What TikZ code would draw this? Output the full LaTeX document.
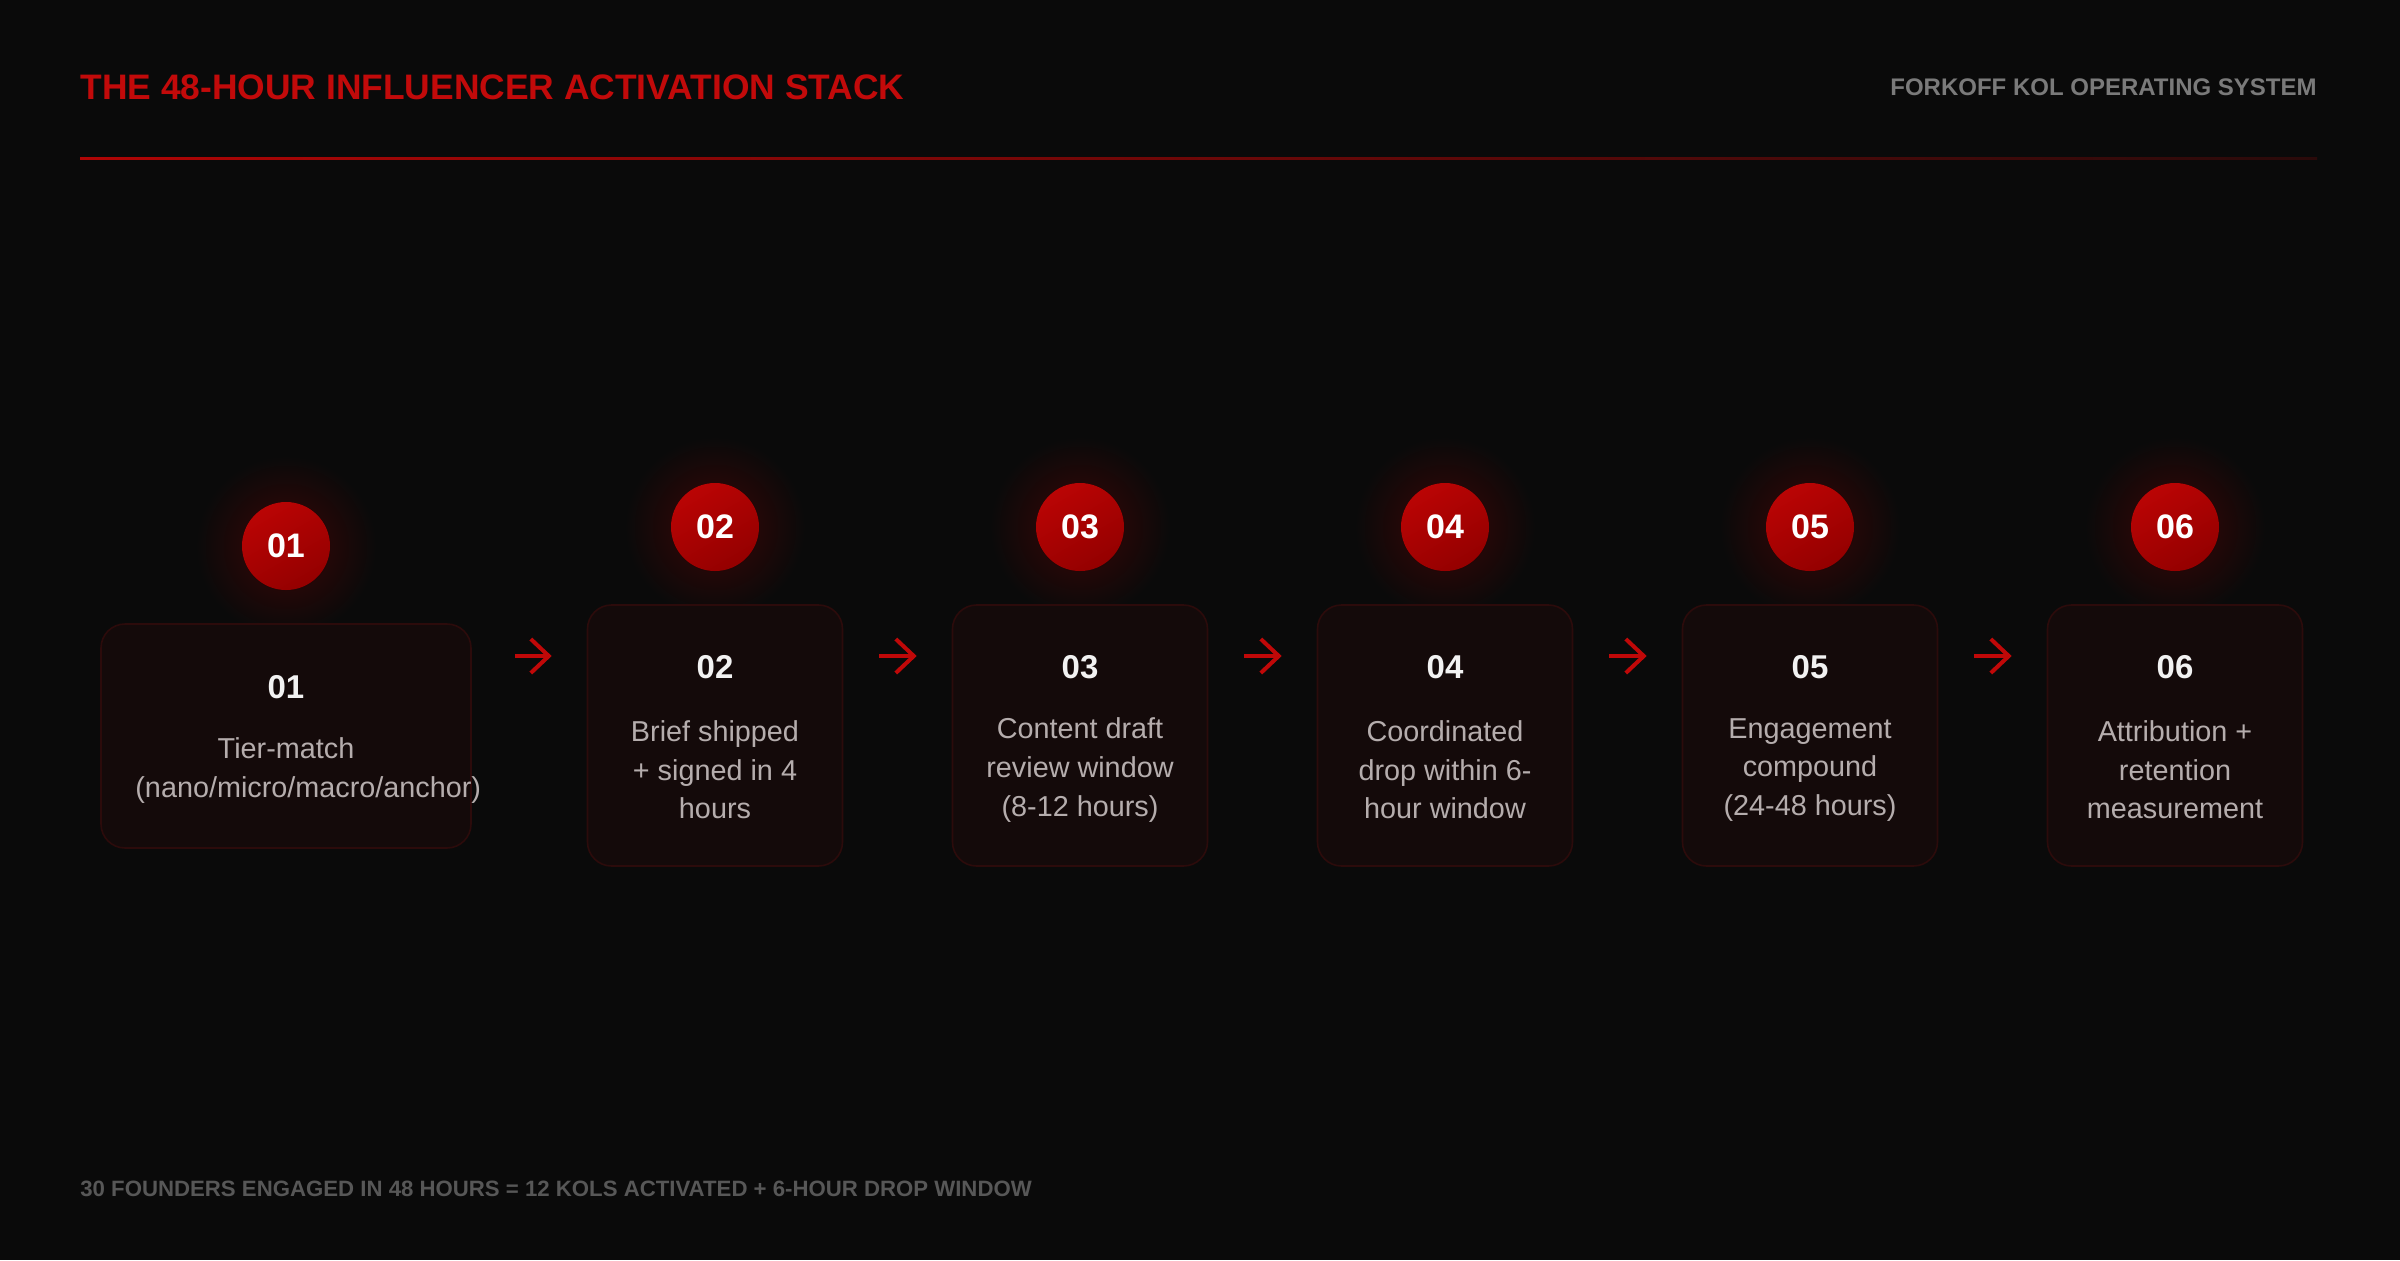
\documentclass[tikz,border=0pt]{standalone}
\usepackage{fontspec}
\setmainfont{Liberation Sans}
\usetikzlibrary{arrows.meta}
\definecolor{bg}{HTML}{0A0A0A}
\definecolor{titlered}{HTML}{C20A0A}
\definecolor{headgray}{HTML}{7A7A7A}
\definecolor{footgray}{HTML}{575757}
\definecolor{cardfill}{HTML}{140A0A}
\definecolor{cardline}{HTML}{2C0B0B}
\definecolor{desctext}{HTML}{B5ADAD}
\definecolor{numtext}{HTML}{F2F2F2}
\definecolor{redA}{HTML}{BA0404}
\definecolor{redB}{HTML}{940000}
\definecolor{glow}{HTML}{3A0505}
\definecolor{ruleA}{HTML}{B00505}
\definecolor{ruleB}{HTML}{2A0A0A}
\definecolor{arrowred}{HTML}{C00808}
\begin{document}
\begin{tikzpicture}[x=0.5pt,y=-0.5pt,
  card/.style={draw=cardline, line width=0.8pt, fill=cardfill, rounded corners=12pt, inner sep=0pt},
  bigcard/.style={card, minimum width=185pt, minimum height=112pt},
  smallcard/.style={card, minimum width=127.5pt, minimum height=130.5pt},
  badge/.style={circle, minimum size=44pt, inner sep=0pt, top color=redA, bottom color=redB, shading angle=30, text=white, font=\bfseries\fontsize{17}{18}\selectfont},
  num/.style={text=numtext, font=\bfseries\fontsize{16.5}{18}\selectfont, inner sep=0pt},
  desc/.style={text=desctext, align=center, font=\fontsize{14.4}{19.3}\selectfont, inner sep=0pt},
  descline/.style={text=desctext, font=\fontsize{14.4}{19.3}\selectfont, inner sep=0pt},
  arr/.style={draw=arrowred, line width=2pt, -{Straight Barb[length=9pt,width=17pt,line width=2pt]}}
]
\fill[bg] (0,0) rectangle (2400,1260);
\useasboundingbox (0,0) rectangle (2400,1260);

% header
\node[anchor=west, inner sep=0pt, text=titlered, font=\bfseries\fontsize{17.7}{20}\selectfont] (title) at (80,87) {THE 48-HOUR INFLUENCER ACTIVATION STACK};
\node[anchor=east, inner sep=0pt, text=headgray, font=\bfseries\fontsize{12}{14}\selectfont] (brand) at (2317,87) {FORKOFF KOL OPERATING SYSTEM};
\shade[left color=ruleA, right color=ruleB] (80,157) rectangle (2317,159.5);

% glows
\foreach \gx/\gy in {286/546, 715/527, 1080/527, 1445/527, 1810/527, 2175/527}{
  \shade[inner color=glow, outer color=bg] (\gx,\gy) circle (90);
}

% cards
\node[bigcard] (c1) at (286,736) {};
\node[smallcard] (c2) at (715,735.5) {};
\node[smallcard] (c3) at (1080,735.5) {};
\node[smallcard] (c4) at (1445,735.5) {};
\node[smallcard] (c5) at (1810,735.5) {};
\node[smallcard] (c6) at (2175,735.5) {};

% badges
\node[badge] (b1) at (286,546) {01};
\node[badge] (b2) at (715,527) {02};
\node[badge] (b3) at (1080,527) {03};
\node[badge] (b4) at (1445,527) {04};
\node[badge] (b5) at (1810,527) {05};
\node[badge] (b6) at (2175,527) {06};

% card numbers
\node[num] (n1) at (286,687) {01};
\node[num] (n2) at (715,667) {02};
\node[num] (n3) at (1080,667) {03};
\node[num] (n4) at (1445,667) {04};
\node[num] (n5) at (1810,667) {05};
\node[num] (n6) at (2175,667) {06};

% descriptions
\node[descline, anchor=base] (d1) at (286,758) {Tier-match};
\node[descline, anchor=base west] (d1b) at (135,797) {(nano/micro/macro/anchor)};
\node[desc] (d2) at (715,770) {Brief shipped\\+ signed in 4\\hours};
\node[desc] (d3) at (1080,770) {Content draft\\review window\\(8-12 hours)};
\node[desc] (d4) at (1445,770) {Coordinated\\drop within 6-\\hour window};
\node[desc] (d5) at (1810,770) {Engagement\\compound\\(24-48 hours)};
\node[desc] (d6) at (2175,770) {Attribution +\\retention\\measurement};

% arrows
\coordinate (ay) at (0,656);
\draw[arr, shorten <=21.5pt, shorten >=17.5pt] (c1.east |- ay) -- (c2.west |- ay);
\draw[arr, shorten <=18pt, shorten >=17.5pt] (c2.east |- ay) -- (c3.west |- ay);
\draw[arr, shorten <=18pt, shorten >=17.5pt] (c3.east |- ay) -- (c4.west |- ay);
\draw[arr, shorten <=18pt, shorten >=17.5pt] (c4.east |- ay) -- (c5.west |- ay);
\draw[arr, shorten <=18pt, shorten >=17.5pt] (c5.east |- ay) -- (c6.west |- ay);

% footer
\node[anchor=west, inner sep=0pt, text=footgray, font=\bfseries\fontsize{11.1}{13}\selectfont] (foot) at (80,1189) {30 FOUNDERS ENGAGED IN 48 HOURS = 12 KOLS ACTIVATED + 6-HOUR DROP WINDOW};
\end{tikzpicture}
\end{document}
